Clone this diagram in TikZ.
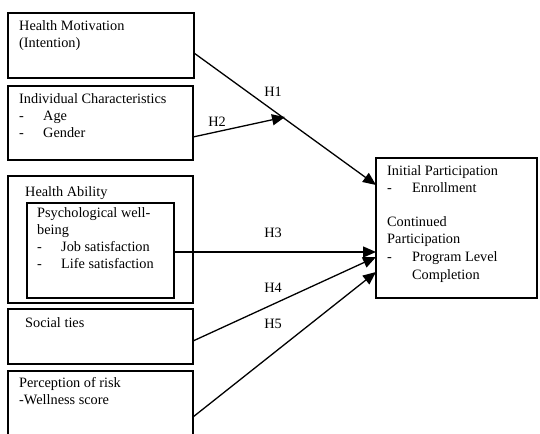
\documentclass[tikz,border=0pt]{standalone}
\usepackage{fontspec}
\setmainfont{Liberation Serif}
\usetikzlibrary{arrows.meta,calc}
\tikzset{
  box/.style={draw, line width=1.6bp, inner sep=0pt, outer sep=0pt, anchor=north west},
  txt/.style={anchor=base west, inner sep=0pt, font=\fontsize{14.3bp}{17bp}\selectfont},
  lab/.style={anchor=base, inner sep=0pt, font=\fontsize{14.3bp}{17bp}\selectfont},
  arr/.style={line width=1.3bp, -{Triangle[length=13bp,width=11bp]}}
}
\begin{document}
\begin{tikzpicture}[x=1bp,y=-1bp]
\useasboundingbox (0,0) rectangle (540,434);
% boxes
\node[box, minimum width=186bp, minimum height=65bp] (b1) at (8,13) {};
\node[box, minimum width=185bp, minimum height=74bp] (b2) at (8,86) {};
\node[box, minimum width=185bp, minimum height=127bp] (b3) at (8,176) {};
\node[box, minimum width=147bp, minimum height=95bp] (b3i) at (27,203) {};
\node[box, minimum width=185bp, minimum height=55bp] (b4) at (8,309) {};
\node[box, minimum width=185bp, minimum height=75bp] (b5) at (8,371) {};
\node[box, minimum width=161bp, minimum height=140bp] (rt) at (376,158) {};
% texts
\node[txt] (t1a) at (19,31) {Health Motivation};
\node[txt] (t1b) at (19,48) {(Intention)};
\node[txt] (t2a) at (19,104) {Individual Characteristics};
\node[txt] (t2b) at (19,121) {-};
\node[txt] (t2c) at (43,121) {Age};
\node[txt] (t2d) at (19,138) {-};
\node[txt] (t2e) at (43,138) {Gender};
\node[txt] (t3a) at (25,197) {Health Ability};
\node[txt] (t3b) at (37,218) {Psychological well-};
\node[txt] (t3c) at (37,235) {being};
\node[txt] (t3d) at (37,252) {-};
\node[txt] (t3e) at (61,252) {Job satisfaction};
\node[txt] (t3f) at (37,269) {-};
\node[txt] (t3g) at (61,269) {Life satisfaction};
\node[txt] (t4a) at (25,327) {Social ties};
\node[txt] (t5a) at (19,387) {Perception of risk};
\node[txt] (t5b) at (19,404) {-Wellness score};
\node[txt] (r1) at (387,176) {Initial Participation};
\node[txt] (r2) at (387,193) {-};
\node[txt] (r3) at (412,193) {Enrollment};
\node[txt] (r4) at (387,227) {Continued};
\node[txt] (r5) at (387,244) {Participation};
\node[txt] (r6) at (387,262) {-};
\node[txt] (r7) at (412,262) {Program Level};
\node[txt] (r8) at (412,279) {Completion};
% endpoints
\coordinate (s1) at ($(b1.north east)+(0,40)$);
\coordinate (e1) at ($(rt.north west)+(0,27)$);
\coordinate (s2) at ($(b2.north east)+(0,51)$);
\coordinate (e2) at (285,117);
\coordinate (s3) at ($(b3i.north east)+(0,49)$);
\coordinate (e3) at ($(rt.north west)+(0,94)$);
\coordinate (s4) at ($(b4.north east)+(0,32)$);
\coordinate (e4) at ($(rt.north west)+(0,99)$);
\coordinate (s5) at ($(b5.north east)+(0,46)$);
\coordinate (e5) at ($(rt.north west)+(0,114)$);
% arrows
\draw[arr] (s1) -- (e1);
\draw[arr] (s2) -- (e2);
\draw[arr] (s3) -- (e3);
\draw[arr] (s4) -- (e4);
\draw[arr] (s5) -- (e5);
% labels
\node[lab] (h1) at (273,97) {H1};
\node[lab] (h2) at (217,127) {H2};
\node[lab] (h3) at (273,238) {H3};
\node[lab] (h4) at (273,292) {H4};
\node[lab] (h5) at (273,328) {H5};
\end{tikzpicture}
\end{document}
